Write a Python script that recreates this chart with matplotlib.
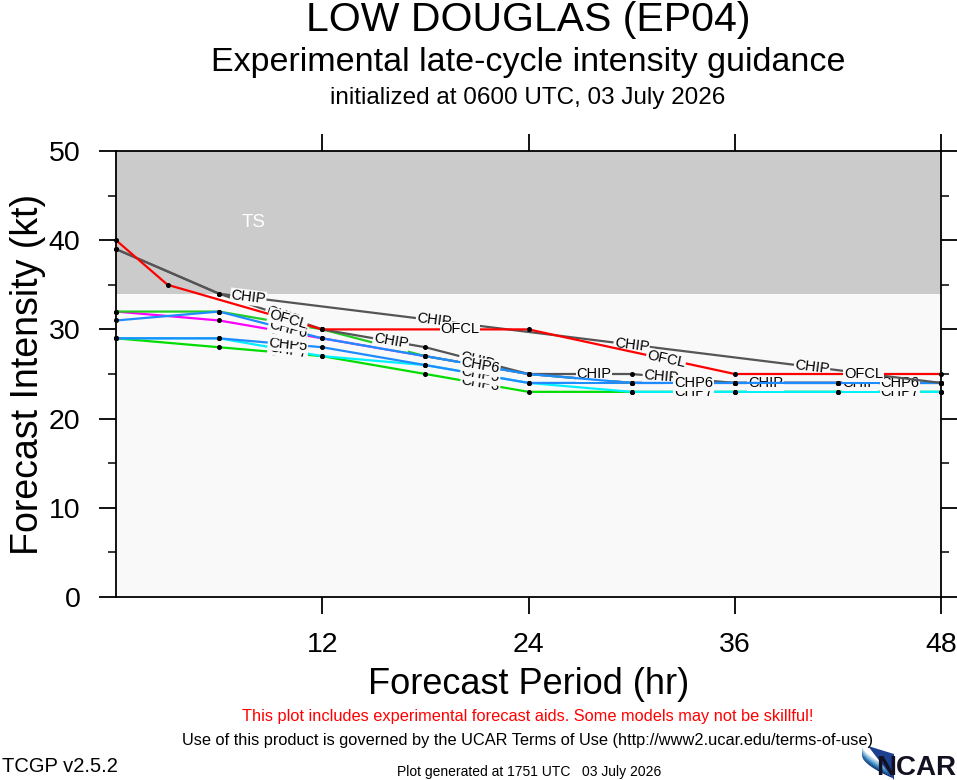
import numpy as np
import matplotlib
matplotlib.use('Agg')
import matplotlib.pyplot as plt
from matplotlib.patches import Polygon

plt.rcParams['font.family'] = ['Liberation Sans', 'DejaVu Sans']

W, H = 957, 780

# forecast hours and intensities (kt)
hours = [0, 6, 12, 18, 24, 30, 36, 42, 48]
ofcl_hours = [0, 3, 12, 24, 36, 48]
ofcl = [40, 35, 30, 30, 25, 25]
chip_hours = [0, 6, 48]
chip = [39, 34, 24]
chii = [39, 34, 30, 28, 25, 25, 24, 24, 24]
chp2 = [32, 32, 30, 27, 25, 24, 24, 24, 24]
chp3 = [29, 28, 27, 25, 23, 23, 23, 23, 23]
chp4 = [32, 31, 29, 27, 25, 24, 24, 24, 24]
chp5 = [29, 29, 28, 26, 24, 24, 24, 24, 24]
chp6 = [31, 32, 29, 27, 25, 24, 24, 24, 24]
chp7 = [29, 29, 27, 26, 24, 23, 23, 23, 23]

# hours where the line labels sit
ofcl_lbl = [10, 20, 32, 43.5]
chip_lbl = [7.7, 18.5, 30, 40.5]
chii_lbl = [9.7, 16, 21, 27.8, 31.7, 37.8, 43.3]
memb_lbl = [10, 21.2, 33.6, 45.6]

xticks = [12, 24, 36, 48]
yticks = [0, 10, 20, 30, 40, 50]

BG = '#f9f9f9'

fig = plt.figure(figsize=(W / 100, H / 100), dpi=100)
fig.patch.set_facecolor('white')
ax = fig.add_axes([116 / W, 1 - 597 / H, (941 - 116) / W, (597 - 151) / H])
ax.set_xlim(0, 48)
ax.set_ylim(0, 50)
ax.set_facecolor(BG)
ax.axhspan(34, 50, color='#cbcbcb', zorder=0, lw=0)
ax.text(8, 42, 'TS', color='white', fontsize=13.5, ha='center', va='center')


def label_line(xs, ys, name, at, z):
    for h in at:
        y = np.interp(h, xs, ys)
        p1 = ax.transData.transform((h - 0.5, np.interp(h - 0.5, xs, ys)))
        p2 = ax.transData.transform((h + 0.5, np.interp(h + 0.5, xs, ys)))
        ang = np.degrees(np.arctan2(p2[1] - p1[1], p2[0] - p1[0]))
        ax.text(h, y, name, fontsize=10.5, ha='center', va='center',
                rotation=ang, rotation_mode='anchor', zorder=z + 0.5,
                bbox=dict(boxstyle='square,pad=0.05', fc=BG, ec='none'))


series = [
    (hours, chp3, '#00dd00', 'CHP3', memb_lbl),
    (hours, chp7, '#00f0ff', 'CHP7', memb_lbl),
    (hours, chp5, '#1e8cff', 'CHP5', memb_lbl),
    (hours, chp4, '#ff00ff', 'CHP4', memb_lbl),
    (hours, chp2, '#22cc22', 'CHP2', memb_lbl),
    (hours, chii, '#555555', 'CHIP', chii_lbl),
    (hours, chp6, '#1e8cff', 'CHP6', memb_lbl),
    (chip_hours, chip, '#555555', 'CHIP', chip_lbl),
    (ofcl_hours, ofcl, '#ff0000', 'OFCL', ofcl_lbl),
]

for i, (xs, ys, col, name, at) in enumerate(series):
    z = 2 + i
    ax.plot(xs, ys, color=col, lw=1.6, zorder=z, clip_on=False)
    ax.plot(xs, ys, 'o', color='black', ms=2.6, zorder=z + 0.6, clip_on=False)
    label_line(xs, ys, name, at, z)

ax.set_xticks(xticks)
ax.set_xticklabels([str(t) for t in xticks])
ax.set_yticks(yticks)
ax.set_yticks(range(5, 50, 10), minor=True)
ax.tick_params(which='major', direction='out', length=12.5, width=1.3,
               top=True, right=True, labelsize=20.5, pad=13)
ax.tick_params(which='minor', direction='out', length=6, width=1.1,
               top=True, right=True)
ax.tick_params(axis='x', which='minor', length=0)
for s in ax.spines.values():
    s.set_linewidth(1.3)
    s.set_zorder(20)

ax.set_xlabel('Forecast Period (hr)', fontsize=26, labelpad=6)
ax.set_ylabel('Forecast Intensity (kt)', fontsize=27, labelpad=2)


def ftext(x, y, s, **kw):
    fig.text(x / W, 1 - y / H, s, ha='center', va='center', **kw)


ftext(528, 20, 'LOW DOUGLAS (EP04)', fontsize=29.5)
ftext(528, 62, 'Experimental late-cycle intensity guidance', fontsize=24.5)
ftext(528, 98, 'initialized at 0600 UTC, 03 July 2026', fontsize=17.5)

narrow = ['Liberation Sans Narrow', 'Liberation Sans', 'DejaVu Sans']
ftext(528, 717, 'This plot includes experimental forecast aids. Some models may not be skillful!',
      fontsize=11.8, color='red', family=narrow)
ftext(528, 741, 'Use of this product is governed by the UCAR Terms of Use (http://www2.ucar.edu/terms-of-use)',
      fontsize=11.8, family=narrow)
ftext(60, 767, 'TCGP v2.5.2', fontsize=14.5, family=narrow)
ftext(529, 772, 'Plot generated at 1751 UTC   03 July 2026', fontsize=10, family=narrow)

# NCAR logo: blue swoosh and lettering
lax = fig.add_axes([860 / W, 0, 97 / W, 34 / H])
lax.set_xlim(0, 97)
lax.set_ylim(0, 34)
lax.axis('off')
blues = plt.cm.Blues(np.linspace(0.25, 1.0, 8))
for k in range(8):
    t = np.linspace(0, 1, 30)
    xo = 2 + 30 * t
    top0 = 34 - 22 * t ** 0.6 - k * 1.2
    pts = list(zip(xo, top0)) + list(zip(xo[::-1], (top0 - 1.4)[::-1]))
    lax.add_patch(Polygon(pts, closed=True, fc=blues[k], ec='none'))
lax.fill([8, 34, 34], [34, 0, 26], color='#1c3f8f', lw=0)
lax.text(96, 12, 'NCAR', fontsize=20, ha='right', va='center',
         color='#111122', fontweight='bold', family=narrow)

fig.savefig('out.png', dpi=100)
